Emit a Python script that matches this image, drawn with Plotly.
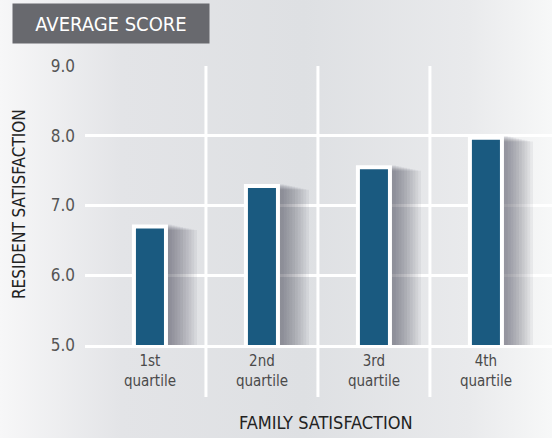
import base64
import plotly.graph_objects as go

categories = ["1st<br>quartile", "2nd<br>quartile", "3rd<br>quartile", "4th<br>quartile"]
scores = [6.70, 7.28, 7.55, 7.97]
y_ticks = [5.0, 6.0, 7.0, 8.0, 9.0]
y_tick_labels = ["5.0", "6.0", "7.0", "8.0", "9.0"]

W, H = 552, 438
ML, MR, MT, MB = 85, 0, 66, 93
PW, PH = W - ML - MR, H - MT - MB

FONT = "DejaVu Sans Condensed, Roboto, sans-serif"
BAR_COLOR = "#1a5a80"

def px_x(px):
    return (px - ML) / PW

def px_y(py):
    return (H - MB - py) / PH

xs = list(range(len(categories)))

fig = go.Figure()

# background gradient image
svg = ('<svg xmlns="http://www.w3.org/2000/svg" width="552" height="438" preserveAspectRatio="none">'
       '<defs><linearGradient id="g" x1="0" y1="0" x2="1" y2="0">'
       '<stop offset="0" stop-color="#f7f7f8"/><stop offset="0.22" stop-color="#e3e4e7"/>'
       '<stop offset="0.55" stop-color="#dee0e3"/><stop offset="0.85" stop-color="#e9eaec"/>'
       '<stop offset="1" stop-color="#f7f8f8"/></linearGradient></defs>'
       '<rect width="552" height="438" fill="url(#g)"/></svg>')
src = "data:image/svg+xml;base64," + base64.b64encode(svg.encode()).decode()
fig.add_layout_image(dict(source=src, xref="paper", yref="paper", x=px_x(0), y=px_y(0),
                          sizex=W / PW, sizey=H / PH, sizing="stretch", layer="below",
                          xanchor="left", yanchor="top"))

# soft blurred shadows to the right of each bar (wider layers slightly lower)
shadow_widths = [0.42, 0.395, 0.37, 0.345, 0.32, 0.295, 0.27, 0.245, 0.22, 0.195]
for w in shadow_widths:
    drop = 0.35 * (w - 0.27)
    fig.add_trace(go.Bar(x=xs, y=[v - drop for v in scores], width=w, offset=0.0,
                         marker=dict(color="rgba(50,50,60,0.06)", line=dict(width=0)),
                         hoverinfo="skip", showlegend=False))

fig.add_trace(go.Bar(x=xs, y=scores, width=0.286,
                     marker=dict(color=BAR_COLOR, line=dict(color="white", width=4)),
                     showlegend=False))

shapes = []
for b in [0.5, 1.5, 2.5]:
    shapes.append(dict(type="line", xref="x", yref="paper", x0=b, x1=b, y0=1, y1=px_y(397),
                       line=dict(color="white", width=3), layer="below"))

fig.update_layout(
    width=W, height=H,
    margin=dict(l=ML, r=MR, t=MT, b=MB),
    paper_bgcolor="#e6e7ea",
    plot_bgcolor="rgba(0,0,0,0)",
    barmode="overlay",
    shapes=shapes,
    font=dict(family=FONT),
    xaxis=dict(range=[-0.58, 3.59], tickvals=xs, ticktext=categories, showgrid=False,
               zeroline=False, showline=True, linecolor="white", linewidth=3,
               tickfont=dict(size=15, color="#4a4a4a"), fixedrange=True),
    yaxis=dict(range=[5, 9], tickvals=y_ticks, ticktext=y_tick_labels, showgrid=True,
               gridcolor="white", gridwidth=2.5, zeroline=False, showline=False,
               tickfont=dict(size=17, color="#555555"), ticklabelstandoff=9, fixedrange=True),
    annotations=[
        dict(text="AVERAGE SCORE", xref="paper", yref="paper", x=px_x(12), y=px_y(3),
             xanchor="left", yanchor="top", showarrow=False, bgcolor="#68696e",
             width=196, height=39, borderpad=0, align="center", valign="middle",
             font=dict(size=20, color="white", family=FONT)),
        dict(text="RESIDENT SATISFACTION", xref="paper", yref="paper", x=px_x(19), y=px_y(204),
             xanchor="center", yanchor="middle", showarrow=False, textangle=-90,
             font=dict(size=17, color="#222222", family=FONT)),
        dict(text="FAMILY SATISFACTION", xref="paper", yref="paper", x=px_x(326), y=px_y(422),
             xanchor="center", yanchor="middle", showarrow=False,
             font=dict(size=18, color="#222222", family=FONT)),
    ],
)

fig.write_html("out.html", config={"displayModeBar": False},
               post_script="document.body.style.margin='0';")
